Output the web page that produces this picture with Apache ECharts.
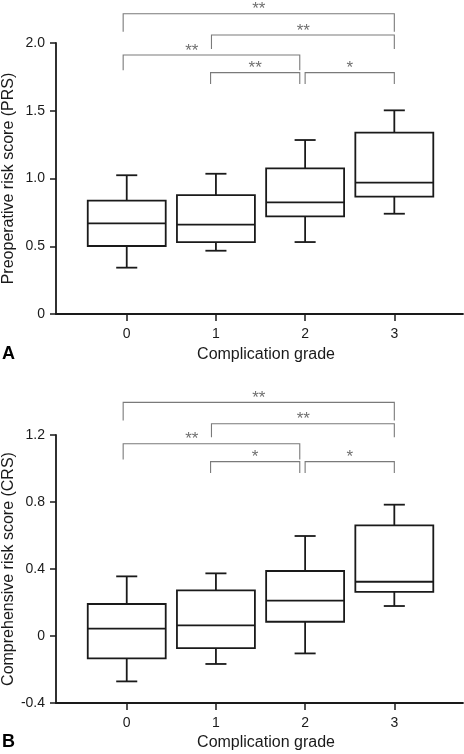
<!DOCTYPE html>
<html>
<head>
<meta charset="utf-8">
<script src="https://cdn.jsdelivr.net/npm/echarts@6/dist/echarts.min.js"></script>
<style>html,body{margin:0;padding:0;background:#fff}#c{width:464px;height:754px}</style>
</head>
<body>
<div id="c"></div>
<script>
// ---- data ----
const categories = ['0', '1', '2', '3'];
// [low whisker, Q1, median, Q3, high whisker]
const prsBoxes = [
  [0.342, 0.502, 0.669, 0.836, 1.024],
  [0.467, 0.531, 0.659, 0.878, 1.035],
  [0.531, 0.721, 0.824, 1.075, 1.284],
  [0.740, 0.866, 0.969, 1.338, 1.503]
];
const crsBoxes = [
  [-0.271, -0.134, 0.044, 0.191, 0.356],
  [-0.167, -0.072, 0.063, 0.272, 0.374],
  [-0.104, 0.085, 0.211, 0.388, 0.597],
  [0.179, 0.263, 0.324, 0.660, 0.784]
];
const prsTicks = ['0', '0.5', '1.0', '1.5', '2.0'];
const crsTicks = ['-0.4', '0', '0.4', '0.8', '1.2'];
// significance brackets: [from x, to x, bar level, leg bottom, label x, label]
const prsBrackets = [
  [-0.04, 3.0, 2.216, 2.083, 1.48, '**'],
  [0.95, 3.0, 2.059, 1.956, 1.98, '**'],
  [-0.04, 1.94, 1.911, 1.799, 0.73, '**'],
  [0.94, 1.94, 1.781, 1.697, 1.44, '**'],
  [2.0, 3.0, 1.781, 1.697, 2.5, '*']
];
const crsBrackets = [
  [-0.04, 3.0, 1.395, 1.287, 1.48, '**'],
  [0.95, 3.0, 1.267, 1.186, 1.98, '**'],
  [-0.04, 1.94, 1.148, 1.053, 0.73, '**'],
  [0.94, 1.94, 1.041, 0.973, 1.44, '*'],
  [2.0, 3.0, 1.041, 0.973, 2.5, '*']
];

const FONT = 'Liberation Sans, Arial, Helvetica, sans-serif';
const INK = '#1a1a1a';
const GREY = '#7a7a7a';

function boxData(arr) {
  return arr.map((b, i) => [Number(categories[i])].concat(b));
}
function bracketData(arr) { return arr.map(b => b.slice()); }

function renderBox(params, api) {
  const x = api.value(0);
  const lo = api.coord([x, api.value(1)]);
  const q1 = api.coord([x, api.value(2)]);
  const md = api.coord([x, api.value(3)]);
  const q3 = api.coord([x, api.value(4)]);
  const hi = api.coord([x, api.value(5)]);
  const unit = api.size([1, 0])[0];
  const hw = unit * 0.437;
  const cw = unit * 0.118;
  const cx = lo[0];
  const st = { stroke: INK, lineWidth: 1.8, fill: null };
  return {
    type: 'group',
    children: [
      { type: 'line', shape: { x1: cx, y1: hi[1], x2: cx, y2: q3[1] }, style: st },
      { type: 'line', shape: { x1: cx - cw, y1: hi[1], x2: cx + cw, y2: hi[1] }, style: st },
      { type: 'line', shape: { x1: cx, y1: lo[1], x2: cx, y2: q1[1] }, style: st },
      { type: 'line', shape: { x1: cx - cw, y1: lo[1], x2: cx + cw, y2: lo[1] }, style: st },
      { type: 'rect', shape: { x: cx - hw, y: q3[1], width: hw * 2, height: q1[1] - q3[1] }, style: { stroke: INK, lineWidth: 1.8, fill: '#fff' } },
      { type: 'line', shape: { x1: cx - hw, y1: md[1], x2: cx + hw, y2: md[1] }, style: st }
    ]
  };
}

function renderBracket(params, api) {
  const a = api.coord([api.value(0), api.value(2)]);
  const b = api.coord([api.value(1), api.value(2)]);
  const la = api.coord([api.value(0), api.value(3)]);
  const t = api.coord([api.value(4), api.value(2)]);
  const st = { stroke: GREY, lineWidth: 1.1, fill: null };
  return {
    type: 'group',
    children: [
      { type: 'polyline', shape: { points: [[a[0], la[1]], [a[0], a[1]], [b[0], b[1]], [b[0], la[1]]] }, style: st },
      { type: 'text', x: t[0], y: a[1] - 4, style: { text: api.value(5), fill: '#707070', font: '17px ' + FONT, align: 'center', verticalAlign: 'middle' } }
    ]
  };
}

function xAxisFor(gi, gap) {
  return {
    type: 'value', gridIndex: gi, min: -0.793, max: 3.77,
    name: 'Complication grade', nameLocation: 'middle', nameGap: gap, nameMoveOverlap: false,
    nameTextStyle: { fontFamily: FONT, fontSize: 16, color: INK, padding: [0, 0, 0, 13] },
    axisLine: { show: true, onZero: false, lineStyle: { color: INK, width: 1.8 } },
    axisTick: { show: true, length: 7, customValues: [0, 1, 2, 3], lineStyle: { color: INK, width: 1.5 } },
    axisLabel: { customValues: [0, 1, 2, 3], formatter: v => categories[Math.round(v)], fontFamily: FONT, fontSize: 14, color: INK, margin: 13 },
    splitLine: { show: false }
  };
}
function yAxisFor(gi, min, max, interval, ticks, name) {
  return {
    type: 'value', gridIndex: gi, min: min, max: max, interval: interval,
    name: name, nameLocation: 'middle', nameGap: 39, nameMoveOverlap: false,
    nameTextStyle: { fontFamily: FONT, fontSize: 16, color: INK },
    axisLine: { show: true, onZero: false, lineStyle: { color: INK, width: 1.8 } },
    axisTick: { show: true, length: 6, lineStyle: { color: INK, width: 1.5 } },
    axisLabel: { fontFamily: FONT, fontSize: 14, color: INK, margin: 11,
      formatter: v => ticks[Math.round((v - min) / interval)] },
    splitLine: { show: false }
  };
}

const chart = echarts.init(document.getElementById('c'), null, { renderer: 'canvas' });
chart.setOption({
  animation: false,
  backgroundColor: '#fff',
  grid: [
    { left: 56, top: 43, width: 407, height: 271, containLabel: false, outerBoundsMode: 'none' },
    { left: 56, top: 435, width: 407, height: 268, containLabel: false, outerBoundsMode: 'none' }
  ],
  xAxis: [xAxisFor(0, 33), xAxisFor(1, 32)],
  yAxis: [
    yAxisFor(0, 0, 2.0, 0.5, prsTicks, 'Preoperative risk score (PRS)'),
    yAxisFor(1, -0.4, 1.2, 0.4, crsTicks, 'Comprehensive risk score (CRS)')
  ],
  graphic: [
    { type: 'text', left: 2, top: 345, style: { text: 'A', font: 'bold 18px ' + FONT, fill: '#000' } },
    { type: 'text', left: 2, top: 733, style: { text: 'B', font: 'bold 18px ' + FONT, fill: '#000' } }
  ],
  series: [
    { type: 'custom', xAxisIndex: 0, yAxisIndex: 0, clip: false, renderItem: renderBox, data: boxData(prsBoxes), encode: { x: 0, y: [1, 2, 3, 4, 5] } },
    { type: 'custom', xAxisIndex: 1, yAxisIndex: 1, clip: false, renderItem: renderBox, data: boxData(crsBoxes), encode: { x: 0, y: [1, 2, 3, 4, 5] } },
    { type: 'custom', xAxisIndex: 0, yAxisIndex: 0, clip: false, renderItem: renderBracket, data: bracketData(prsBrackets), encode: { x: [0, 1], y: [2, 3] } },
    { type: 'custom', xAxisIndex: 1, yAxisIndex: 1, clip: false, renderItem: renderBracket, data: bracketData(crsBrackets), encode: { x: [0, 1], y: [2, 3] } }
  ]
});
</script>
</body>
</html>
